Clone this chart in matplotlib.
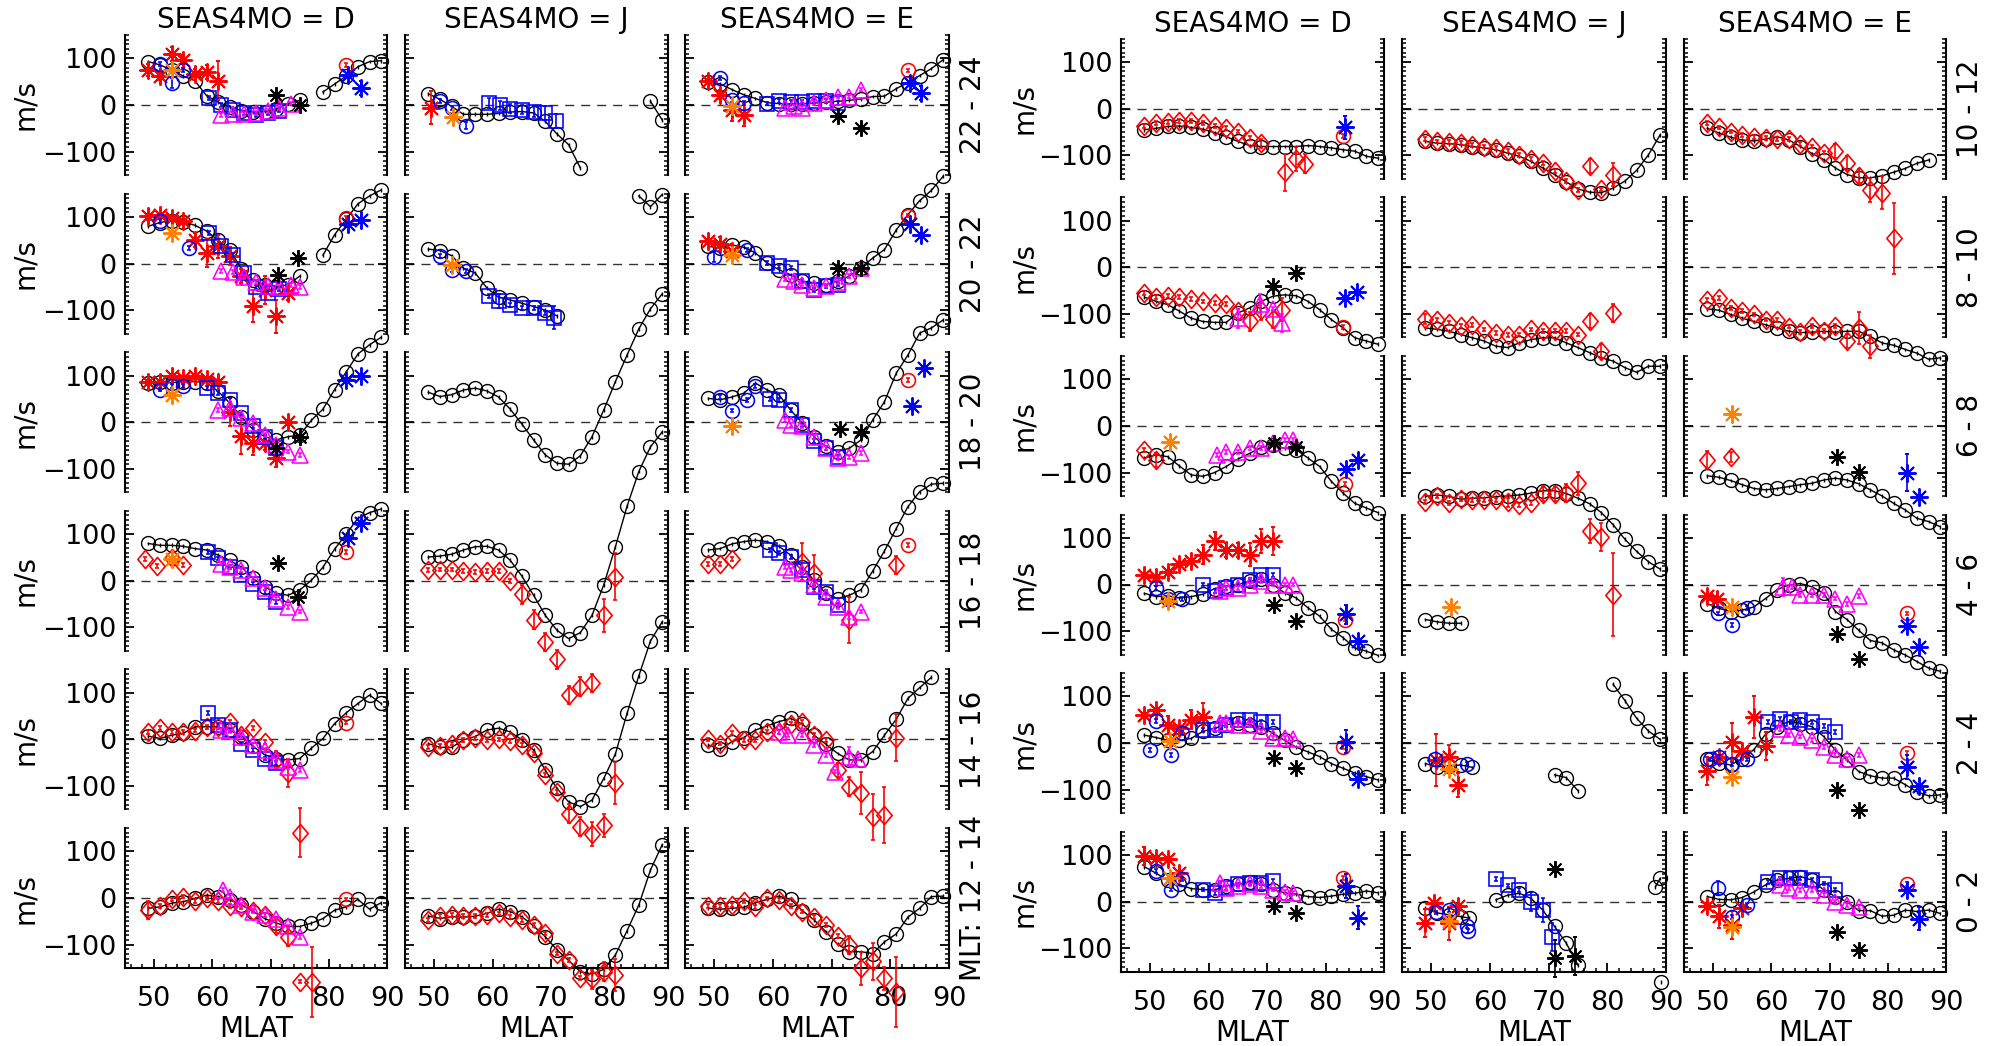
import matplotlib
matplotlib.use("Agg")
import matplotlib.pyplot as plt
import numpy as np
from matplotlib.ticker import FixedLocator, MultipleLocator
from matplotlib.path import Path

plt.rcParams['font.family'] = ['DejaVu Sans']
plt.rcParams['font.size'] = 20

N = None
MLAT = [49, 51, 53, 55, 57, 59, 61, 63, 65, 67, 69, 71, 73, 75, 77, 79, 81, 83, 85, 87, 89]
SEASONS = ['D', 'J', 'E']
MLT_LEFT = ['22 - 24', '20 - 22', '18 - 20', '16 - 18', '14 - 16', 'MLT: 12 - 14']
MLT_RIGHT = ['10 - 12', '8 - 10', '6 - 8', '4 - 6', '2 - 4', '0 - 2']
X_TICKS = [50, 60, 70, 80, 90]
Y_TICKS = [-100, 0, 100]

# ---------------- model curves (black circles), on the MLAT grid ----------------
L1D = [93, 86, 75, 62, 52, 20, 6, -4, -12, -15, -14, -8, 3, 10, N, 28, 45, 62, 82, 93, 95]
L1J = [24, 12, -3, -20, -20, -20, -18, -15, -14, -17, -35, -62, -85, -135, N, N, N, N, N, 8, -32]
L1E = [50, 45, 33, 22, 14, 5, 3, 2, 3, 4, 6, 8, 10, 13, 18, 19, 35, 48, 63, 78, 97]
L2D = [80, 88, 92, 90, 82, 70, 50, 30, -12, -35, -45, -50, -45, -27, N, 18, 62, 95, 128, 145, 158]
L2J = [31, 28, 17, -10, -20, -52, -72, -78, -85, -92, -100, -112, N, N, N, N, N, N, 145, 122, 148]
L2E = [37, 33, 40, 35, 23, 1, -13, -24, -38, -41, -45, -38, -27, -9, 12, 30, 72, 105, 135, 157, 187]
L3D = [84, 87, 85, 86, 87, 85, 66, 41, 12, -16, -31, -38, -31, -28, 4, 28, 70, 108, 146, 166, 182]
L3J = [64, 55, 59, 69, 73, 67, 54, 28, -4, -38, -70, -88, -90, -72, -31, 26, 87, 144, 200, 243, 275]
L3E = [51, 48, 54, 62, 84, 69, 59, 26, -2, -31, -52, -63, -56, -38, 5, 44, 105, 144, 191, 202, 219]
L4D = [80, 76, 76, 74, 69, 66, 55, 44, 29, 5, -13, -27, -31, -20, 1, 29, 68, 100, 134, 146, 154]
L4J = [51, 53, 57, 66, 73, 74, 66, 44, 10, -31, -74, -106, -124, -111, -74, -9, 73, 160, 234, 287, 319]
L4E = [66, 69, 79, 84, 87, 84, 74, 55, 30, 1, -27, -38, -31, -19, 21, 64, 112, 159, 191, 207, 209]
L5D = [7, 2, 9, 13, 27, 27, 27, 20, 6, -15, -33, -41, -44, -41, -19, 2, 34, 57, 77, 95, 77]
L5J = [-9, -17, -17, -1, 6, 20, 24, 16, -1, -23, -66, -105, -134, -144, -130, -84, -31, 56, 136, 211, 252]
L5E = [-12, -21, -5, 4, 20, 29, 38, 45, 33, 9, -10, -30, -44, -44, -26, 9, 43, 88, 111, 133, N]
L6D = [-22, -19, -11, -8, -1, 6, 3, -4, -15, -29, -44, -54, -61, -61, -54, -44, -26, -19, -3, -24, -10]
L6J = [-39, -44, -40, -41, -39, -33, -24, -29, -40, -60, -83, -111, -134, -158, -163, -153, -122, -70, -15, 60, 114]
L6E = [-22, -24, -22, -20, -10, -3, 4, -3, -27, -47, -72, -99, -115, -115, -119, -94, -77, -41, -22, 3, 4]

R1D = [-45, -42, -38, -37, -40, -44, -51, -60, -70, -79, -81, -81, -81, -81, -79, -81, -84, -88, -91, -102, -106]
R1J = [-70, -74, -75, -77, -81, -84, -88, -95, -102, -113, -127, -141, -157, -172, -179, -180, -170, -155, -132, -99, -56]
R1E = [-42, -52, -61, -67, -69, -65, -60, -67, -81, -96, -109, -127, -141, -148, -148, -144, -136, -128, -117, -110, N]
R2D = [-64, -73, -80, -94, -109, -116, -118, -118, -98, -87, -73, -62, -59, -61, -73, -91, -112, -130, -151, -158, -165]
R2J = [-130, -133, -137, -144, -151, -158, -169, -172, -162, -155, -151, -151, -162, -172, -183, -194, -201, -215, -225, -212, -212]
R2E = [-89, -92, -101, -109, -116, -123, -130, -137, -140, -139, -137, -139, -137, -137, -148, -162, -167, -176, -184, -197, -194]
R3D = [-69, -62, -66, -86, -105, -108, -100, -87, -71, -59, -46, -41, -48, -51, -69, -87, -119, -144, -166, -176, -186]
R3J = [-151, -148, -151, -157, -155, -154, -152, -150, -148, -144, -139, -139, -145, -155, -167, -186, -212, -243, -269, -291, -307]
R3E = [-107, -110, -117, -126, -134, -137, -134, -130, -126, -123, -116, -112, -116, -124, -137, -150, -166, -180, -198, -205, -216]
R4D = [-19, -26, -24, -29, -26, -21, -9, -4, 0, 7, 12, 0, -18, -29, -50, -68, -96, -114, -136, -143, -152]
R4J = [-75, -80, -83, -83, N, N, N, N, N, N, N, N, N, N, N, N, N, N, N, N, N]
R4E = [-41, -51, -58, -55, -48, -30, -11, -1, 2, -5, -19, -58, -75, -98, -120, -125, -140, -151, -165, -179, -186]
R5D = [17, 12, 6, 6, 10, 25, 32, 39, 43, 39, 35, 21, 6, -9, -19, -29, -44, -54, -64, -72, -79]
R5J = [-44, -51, -48, -47, -52, N, N, N, N, N, N, -68, -74, -102, N, N, 126, 91, 53, 26, 8]
R5E = [-35, -42, -47, -33, -14, 19, 35, 46, 42, 35, 14, -15, -36, -61, -70, -75, -75, -89, -104, -113, -111]
R6D = [75, 61, 46, 37, 28, 26, 25, 34, 37, 42, 37, 26, 19, 16, 11, 9, 12, 16, 18, 23, 19]
R6J_x = [49, 51, 53, 55, 56.5, N, 61, 63, 65, 67, 69, 71, 73, 75, N, 88.2, 89, N, 89.2]
R6J = [-14, -24, -28, -32, -35, N, 4, 14, 18, 7, -18, -53, -89, -136, N, 32, 50, N, -172]
R6E = [11, 5, 4, 9, 21, 36, 46, 50, 54, 46, 25, 11, 0, -19, -19, -31, -29, -18, -21, -18, -25]

MODEL_X = {'R6J': R6J_x}

# ---------------- observations: (MLAT, m/s[, error]) ----------------
# rd red diamond, rs red asterisk, bc blue circle, bq blue square, mt magenta triangle,
# os orange asterisk, ks black asterisk, bs blue asterisk, rc red circle
L1D_obs = {
    'rs': [(49, 75, 12), (51, 62, 8), (53, 110, 15), (55, 96, 8), (57, 66, 12), (59, 70, 15), (61, 52, 42)],
    'bc': [(51, 88), (53, 47, 10), (55, 75)],
    'bq': [(59.5, 15), (61.5, 0), (63.5, -10), (65.5, -17), (67.5, -22), (69.5, -18), (71.5, -12)],
    'mt': [(61.5, -22), (63.5, -20), (65.5, -20), (67.5, -17), (69.5, -13), (71.5, -6), (73.5, 3)],
    'os': [(53, 75)],
    'ks': [(71, 22), (75, 0)],
    'rc': [(83, 86)],
    'bs': [(83.3, 65), (85.5, 36, 15)],
}
L1J_obs = {
    'rs': [(49.5, -6, 35)],
    'bc': [(51, 8), (53, -6), (55.5, -44, 8)],
    'bq': [(59.3, 4, 10), (61.2, -1, 10), (63, -8, 10), (65, -10, 10), (67, -14, 12), (69, -17, 15), (70.8, -35, 15)],
    'os': [(53.2, -26)],
}
L1E_obs = {
    'rs': [(49, 51), (51, 22, 10), (53, -10, 25), (55, -21, 25)],
    'bc': [(51, 58), (53, 11), (55, 4)],
    'bq': [(59, 3), (61, 8), (63, 6), (65, 7), (67, 8), (69, 9), (71, 5)],
    'mt': [(62, -6), (63.5, -3), (65, -6), (67, 4), (69, 11), (71, 18), (73, 18), (75, 33)],
    'os': [(53, -3)],
    'ks': [(71, -24), (75, -49)],
    'rc': [(83, 74)],
    'bs': [(83.3, 47), (85.3, 26, 15)],
}
L2D_obs = {
    'rs': [(49, 101), (51, 105), (53, 98), (55, 91), (57, 51, 15), (59, 23, 30), (61, 37, 25), (63, 16, 20),
           (65, -27, 15), (67, -91, 35), (69, -56, 30), (71, -113, 35), (73, -63, 15)],
    'bc': [(51, 91), (56, 34)],
    'bq': [(59.5, 65), (61.5, 38), (63.5, 18), (65.5, -20), (67.5, -50), (69.5, -62), (71.5, -55)],
    'mt': [(61.5, -16), (63.5, -18), (65.5, -28), (67.5, -40), (69.5, -48), (71.5, -50), (73.5, -46), (75, -50)],
    'os': [(53, 66)],
    'ks': [(71.2, -24), (74.7, 12)],
    'rc': [(83, 98)],
    'bs': [(83.3, 84), (85.5, 94)],
}
L2J_obs = {
    'bc': [(51, 16), (53, -14), (55.5, -16)],
    'bq': [(59.3, -70), (61, -81, 15), (63, -88), (65, -95), (67, -95), (69, -106), (70.5, -116, 25)],
    'os': [(53, -2)],
}
L2E_obs = {
    'rs': [(49, 48), (51, 41, 15), (53, 26, 15)],
    'bc': [(50, 14, 10), (55.5, 29)],
    'bq': [(59, 1), (61, -6), (63, -9), (65, -38), (67, -56), (69, -49), (71, -45)],
    'mt': [(62, -34), (63.5, -38), (65, -45), (67, -52), (69, -47), (71, -40), (73, -26), (75, -9)],
    'os': [(53, 19)],
    'ks': [(71, -9), (75, -9)],
    'rc': [(83, 103)],
    'bs': [(83.3, 84), (85.3, 62)],
}
L3D_obs = {
    'rs': [(49, 87), (51, 87), (53, 98), (55, 94), (57, 99), (59, 92), (61, 87), (63, 21, 30), (65, -29, 40),
           (67, -45, 25), (69, -45, 15), (71, -77, 20), (73, 1)],
    'bc': [(51, 70), (53, 78), (55, 77)],
    'bq': [(59, 73), (61, 62), (63, 48), (65, 19), (67, -9), (69, -31), (71, -56)],
    'mt': [(61, 26), (63, 30), (65, 8), (67, -2), (69, -27), (71, -49), (73, -63), (75, -70)],
    'os': [(53, 59)],
    'ks': [(71, -56), (75, -31)],
    'bs': [(83, 91), (85.5, 99)],
}
L3J_obs = {}
L3E_obs = {
    'bc': [(51, 54), (53, 25), (55.5, 48), (57, 78)],
    'bq': [(59.5, 49), (61, 48), (63, 26), (65, -6), (67, -41), (69, -56), (71, -74)],
    'mt': [(62, 5), (63, -6), (65, -9), (67, -31), (69, -56), (71, -77), (73, -74), (75, -66)],
    'os': [(53, -8)],
    'ks': [(71.5, -15), (75, -20)],
    'rc': [(83, 91)],
    'bs': [(85.7, 116), (83.7, 34)],
}
L4D_obs = {
    'rd': [(48.5, 46), (50.5, 31), (53, 48), (55, 34)],
    'bq': [(59.3, 62), (61, 48), (63, 30), (65, 12), (67, -6), (69, -24), (71, -45)],
    'mt': [(61.5, 37), (63, 30), (65, 23), (67, 5), (69, -16), (71, -38), (73, -56), (75, -66)],
    'os': [(53, 46)],
    'ks': [(71.2, 39), (74.7, -34)],
    'rc': [(83, 62)],
    'bs': [(83.3, 91), (85.5, 123)],
}
L4J_obs = {
    'rd': [(49, 23), (51, 24), (53, 24), (55, 21), (57, 19), (59, 21), (61, 21), (63, 0), (65, -29, 20),
           (67, -83, 20), (69, -131, 20), (71, -168, 20), (73, -245, 20), (75, -227, 20), (77, -219, 20),
           (79, -74, 35), (81, 9, 50)],
}
L4E_obs = {
    'rd': [(49, 36), (51, 36), (53, 46), (65, 41, 40), (67, 16, 40), (73, -84, 50), (81, 34, 20)],
    'bq': [(59.5, 66), (61, 59), (63, 51), (65, 23), (67, -13), (69, -24), (71, -52)],
    'mt': [(62, 30), (63, 23), (65, 16), (67, -10), (69, -34), (71, -56), (73, -77), (75, -66)],
    'rc': [(83, 76)],
}
L5D_obs = {
    'rd': [(49, 16), (51, 24), (53, 16), (55, 16), (57, 19), (59, 27), (61, 27), (63, 38), (65, 9), (67, 24),
           (69, -5), (71, -44, 20), (73, -73, 30), (75, -200, 52)],
    'bq': [(59.3, 56), (61, 31), (63, 20), (65, -9), (67, -23), (69, -41), (71, -51)],
    'mt': [(61.5, 20), (63, 17), (65, 6), (67, -12), (69, -23), (71, -44), (73, -59), (75, -66)],
    'rc': [(83, 36)],
}
L5J_obs = {
    'rd': [(49, -17), (51, -14), (53, -9), (55, -1), (57, 2), (59, -1), (61, 0), (63, -3), (65, -12), (67, -30),
           (69, -76), (71, -112), (73, -159, 20), (75, -187, 20), (77, -203, 25), (79, -184, 25), (81, -93, 45)],
}
L5E_obs = {
    'rd': [(49, 0), (51, -9), (53, 14), (55, -1), (57, -1), (59, 16), (61, 16), (63, 34), (65, 38), (67, 9),
           (69, -1), (71, -66, 15), (73, -101, 20), (75, -114, 45), (77, -166, 50), (79, -162, 60), (81, 4, 50)],
    'mt': [(61, 16), (62.5, 9), (65, 9), (67, -12), (69, -34), (70.5, -69), (73, -37, 20), (74.5, -41)],
}
L6D_obs = {
    'rd': [(49, -26, 20), (51, -17), (53, -3), (55, 3), (57, -6), (59, -1), (61, -6), (63, -17), (65, -19),
           (67, -27), (69, -36), (71, -61, 15), (73, -83, 20), (75, -179), (77.2, -179, 75)],
    'mt': [(61.8, 17), (63, 3), (65, -15), (67, -29), (69, -36), (71, -44), (73, -61), (75, -83)],
    'rc': [(83, -3)],
}
L6J_obs = {
    'rd': [(49, -47), (51, -38), (53, -36), (55, -38), (57, -38), (59, -36), (61, -33), (63, -40), (65, -47),
           (67, -58), (69, -76), (71, -119), (73, -133), (75, -172), (77, -174, 20), (79, -158, 20), (81, -165, 35)],
}
L6E_obs = {
    'rd': [(49, -17), (51, -17), (53, -15), (55, -6), (57, -19), (59, -1), (61, -4), (63, -17), (65, -29),
           (67, -41), (69, -58), (71, -81), (73, -101, 20), (75, -151, 35), (77, -136, 40), (79, -172, 25),
           (81, -201, 75)],
}

R1D_obs = {
    'rd': [(49, -37), (51, -31), (53, -28), (55, -26), (57, -26), (59, -30), (61, -37), (63, -42), (65, -49),
           (67, -63), (69, -74, 10), (73, -136, 40), (75, -108, 25), (76.5, -118, 20)],
    'rc': [(83, -58)],
    'bs': [(83.3, -40, 25)],
}
R1J_obs = {
    'rd': [(49, -65), (51, -70), (53, -72), (55, -74), (57, -77), (59, -81), (61, -84), (63, -91), (65, -99),
           (67, -108), (69, -116), (71, -134), (73, -155), (75, -174), (77, -123, 15), (79, -173), (81, -141, 25)],
}
R1E_obs = {
    'rd': [(49, -30), (51, -40), (53, -49), (55, -56), (57, -61), (59, -63), (61, -65), (63, -65), (65, -75),
           (67, -81), (69, -94), (71, -91, 15), (73, -116, 15), (75, -145, 15), (77, -174, 25), (79, -180, 35),
           (81, -278, 76)],
}
R2D_obs = {
    'rd': [(49, -55), (51, -64), (53, -61), (55, -64), (57, -68), (59, -73), (61, -77), (63, -78), (65, -94),
           (67, -116, 20), (69, -92, 20), (71, -111, 20), (72.5, -91, 25)],
    'mt': [(65, -109, 20), (68.8, -78, 20), (71, -90), (72.5, -119, 20)],
    'ks': [(71, -41), (75, -13)],
    'rc': [(83, -128)],
    'bs': [(83.3, -66), (85.3, -52)],
}
R2J_obs = {
    'rd': [(49, -111, 10), (51, -113), (53, -119), (55, -126), (57, -123), (59, -133), (61, -140), (63, -145),
           (65, -144), (67, -133), (69, -137), (71, -137), (73, -137), (75, -144), (77, -116, 15), (79, -179, 15),
           (81, -98, 20)],
}
R2E_obs = {
    'rd': [(49, -70), (51, -65), (53, -87), (55, -94), (57, -101), (59, -112), (61, -113), (63, -127), (65, -139),
           (67, -125), (69, -137), (71, -126), (73, -158, 15), (75, -130, 35), (77, -169, 25)],
}
R3D_obs = {
    'rd': [(49, -51), (51, -73, 15)],
    'mt': [(61.5, -62), (63, -56), (65, -56), (67, -48), (69, -48), (71, -37), (73, -30), (74.5, -30)],
    'os': [(53.3, -34)],
    'ks': [(71.2, -37), (74.9, -46)],
    'rc': [(83.3, -124)],
    'bs': [(83.5, -93), (85.6, -73)],
}
R3J_obs = {
    'rd': [(49, -163), (51, -151), (53, -165), (55, -157), (57, -159), (59, -159), (61, -159), (63, -164, 10),
           (65, -169), (67, -166), (69, -145, 15), (71, -145, 15), (73, -144, 20), (75, -123, 25), (77, -225, 25),
           (79, -239, 30), (81, -362, 89)],
}
R3E_obs = {
    'rd': [(49, -73, 20), (53, -67, 10)],
    'os': [(53.3, 26)],
    'ks': [(71.2, -67), (75, -98)],
    'bs': [(83.3, -100, 40), (85.3, -153)],
}
R4D_obs = {
    'rs': [(49, 21), (51, 16), (53, 26), (55, 43), (57, 50), (59, 64, 20), (61, 93, 20), (63, 74, 15),
           (65, 74, 15), (67, 64, 25), (69, 93, 25), (71, 93, 30)],
    'bc': [(51, -7), (53, -31), (55.5, -31)],
    'bq': [(59, 0), (61, -14), (63, -7), (65, 0), (67, 9), (69, 21), (71, 21)],
    'mt': [(62, -14), (63, -7), (65, -7), (67, 0), (69, 7), (71, 0), (73, 0), (74.5, 0)],
    'os': [(53, -36)],
    'ks': [(71.2, -43), (74.9, -79)],
    'rc': [(83.3, -75)],
    'bs': [(83.5, -64, 20), (85.6, -121)],
}
R4J_obs = {
    'os': [(53.3, -48)],
}
R4E_obs = {
    'rs': [(49, -25), (50.7, -32)],
    'bc': [(50.8, -62), (53.3, -87), (55.8, -51)],
    'mt': [(62, -5, 20), (63.5, -5), (65, -23), (67, -23), (69, -23), (71, -30), (73, -41), (75, -25)],
    'os': [(53.3, -48)],
    'ks': [(71.2, -105), (75, -160)],
    'rc': [(83.3, -62)],
    'bs': [(83.3, -89), (85.3, -133)],
}
R5D_obs = {
    'rs': [(49, 60), (51, 71), (53, 39, 20), (55, 32), (57, 50, 20), (59, 57, 30)],
    'bc': [(50, -15), (51, 47), (53.5, -25), (55.5, 21)],
    'bq': [(59, 28), (61, 28), (63, 39), (65, 50), (67, 50), (69, 46), (71, 46)],
    'mt': [(62, 43), (63, 43), (65, 39), (67, 39), (69, 25), (71, 11), (73, 11), (74.5, 9)],
    'os': [(53.3, 5)],
    'ks': [(71.2, -32), (74.9, -54)],
    'rc': [(83, -9)],
    'bs': [(83.5, 3, 25), (85.6, -76)],
}
R5J_obs = {
    'rs': [(50.8, -36, 55), (53, -29, 25), (54.6, -90, 25)],
    'bc': [(50.6, -35), (56, -44)],
    'os': [(53, -56)],
}
R5E_obs = {
    'rs': [(49, -59, 30), (51, -29), (53.3, 3, 40), (55, -16), (57, 55, 45), (59, -6, 30)],
    'bc': [(49.5, -35), (51, -30), (53.3, -45), (55.8, -35)],
    'bq': [(59.5, 46), (61.5, 51), (63.4, 46), (65, 49), (67, 46), (69, 36), (71, 24)],
    'mt': [(61.5, 31), (63, 17), (65, 14), (67, 6), (69, -8), (71, -26), (73, -33), (75, -26)],
    'os': [(53.3, -72)],
    'ks': [(71.2, -100), (75, -144)],
    'rc': [(83.3, -21)],
    'bs': [(83.3, -51, 25), (85.3, -92)],
}
R6D_obs = {
    'rs': [(49, 98, 20), (51, 94), (53, 91), (55, 62)],
    'bc': [(51, 66), (53.5, 26), (55.5, 48)],
    'bq': [(59, 26), (61, 19), (63, 30), (65, 37), (67, 40), (69, 40), (71, 44)],
    'mt': [(62, 41), (63, 30), (65, 34), (67, 37), (69, 34), (71, 26), (73, 21), (74.5, 19)],
    'os': [(53.3, 51)],
    'ks': [(71.2, -9), (74.9, -25)],
    'rc': [(83, 51)],
    'bs': [(83.5, 34, 25), (85.6, -34, 25)],
}
R6J_obs = {
    'rs': [(49, -46, 30), (50.4, -2), (53, -46, 35), (54.6, -9)],
    'bc': [(50.8, -23), (53, -17), (56, -52), (56.3, -63)],
    'bq': [(61, 49), (63, 35), (65, 25), (67, 0, 20), (69, -18, 25), (70.5, -75, 30)],
    'os': [(53, -42)],
    'ks': [(71, 71), (71, -121, 40), (74.5, -116, 40)],
}
R6E_obs = {
    'rs': [(49, -9), (51, -31, 25), (53.3, -50, 30), (55, -14)],
    'bc': [(50.8, 29, 15), (53.3, -32), (55.8, -7)],
    'bq': [(59.5, 43), (61.5, 50), (63.4, 50), (65, 50), (67, 46), (69, 39), (71, 25)],
    'mt': [(61.5, 36), (63, 29), (65, 25), (67, 25), (69, 14), (71, 0), (73, -7), (75, -11)],
    'os': [(53.3, -54)],
    'ks': [(71.2, -64), (75, -104)],
    'rc': [(83.3, 38)],
    'bs': [(83.3, 25), (85.3, -36, 25)],
}

# ---------------- styles ----------------
AST = (8, 2, 0)
DIAMOND = Path([(0, 1), (0.85, 0), (0, -1), (-0.85, 0), (0, 1)],
               [Path.MOVETO, Path.LINETO, Path.LINETO, Path.LINETO, Path.CLOSEPOLY])
STYLE = {
    'rd': dict(marker=DIAMOND, color='#ff0000', ms=13, mew=1.2),
    'rs': dict(marker=AST, color='#ff0000', ms=13, mew=1.4),
    'bc': dict(marker='o', color='#0000ff', ms=10, mew=1.15),
    'bq': dict(marker='s', color='#0000ff', ms=9.8, mew=1.15),
    'mt': dict(marker='^', color='#ff00ff', ms=11, mew=1.15),
    'os': dict(marker=AST, color='#ff8000', ms=13, mew=1.4),
    'ks': dict(marker=AST, color='#000000', ms=12, mew=1.4),
    'rc': dict(marker='o', color='#ff0000', ms=10, mew=1.15),
    'bs': dict(marker=AST, color='#0000ff', ms=13, mew=1.4),
}
ORDER = ['rd', 'rs', 'bc', 'bq', 'mt', 'os', 'ks', 'rc', 'bs']
OBS_ERR = 4
MODEL_ERR = 4

W, H = 1999, 1046
fig = plt.figure(figsize=(W / 100, H / 100), dpi=100)

GROUPS = [
    dict(tag='L', cols=[(125, 387), (405, 668), (685, 949)], top0=35.0, labels=MLT_LEFT,
         ylab_x=25, mlt_x=973),
    dict(tag='R', cols=[(1121, 1384), (1402, 1666), (1684, 1946)], top0=38.7, labels=MLT_RIGHT,
         ylab_x=1024, mlt_x=1970),
]
PITCH = 158.6
PH = 140.0
FS = 20
TFS = 19.5


def vals(seq):
    return np.array([np.nan if v is None else v for v in seq], dtype=float)


for g in GROUPS:
    for r in range(6):
        top = g['top0'] + PITCH * r
        for c, s in enumerate(SEASONS):
            x0, x1 = g['cols'][c]
            ax = fig.add_axes([x0 / W, 1 - (top + PH) / H, (x1 - x0) / W, PH / H])
            ax.set_xlim(45, 90)
            ax.set_ylim(-150, 150)
            ax.set_facecolor('none')
            key = f"{g['tag']}{r + 1}{s}"
            ax.axhline(0, color='0.2', lw=1.0, dashes=(6.5, 5), zorder=1)

            my = vals(globals()[key])
            mx = vals(MODEL_X.get(key, MLAT))
            ax.errorbar(mx, my, yerr=MODEL_ERR, fmt='-o', color='k', mfc='none', mec='k', ms=10,
                        mew=1.0, lw=1.0, elinewidth=1.0, capsize=0, zorder=2)

            obs = globals()[key + '_obs']
            for z, k in enumerate(ORDER):
                if k not in obs:
                    continue
                st = STYLE[k]
                pts = obs[k]
                xs = [p[0] for p in pts]
                ys = [p[1] for p in pts]
                es = [p[2] if len(p) > 2 else OBS_ERR for p in pts]
                ax.errorbar(xs, ys, yerr=es, linestyle='none', marker=st['marker'], ms=st['ms'],
                            mfc='none', mec=st['color'], mew=st['mew'], ecolor=st['color'],
                            elinewidth=1.2, capsize=1.2, capthick=1.2, zorder=3 + z)

            for art in list(ax.lines) + list(ax.collections):
                art.set_clip_on(False)

            # axes styling
            ax.spines['top'].set_visible(False)
            for sp in ['left', 'right', 'bottom']:
                ax.spines[sp].set_linewidth(1.5)
            ax.yaxis.set_major_locator(FixedLocator(Y_TICKS))
            ax.yaxis.set_minor_locator(MultipleLocator(10))
            ax.tick_params(axis='y', which='major', direction='in', left=True, right=True,
                           length=6.5, width=1.3, labelsize=TFS, pad=6)
            ax.tick_params(axis='y', which='minor', direction='in', left=True, right=True,
                           length=3.2, width=1.1)
            if c != 0:
                ax.tick_params(axis='y', labelleft=False)
            if r == 5:
                ax.xaxis.set_major_locator(FixedLocator(X_TICKS))
                ax.xaxis.set_minor_locator(MultipleLocator(2))
                ax.tick_params(axis='x', which='major', direction='in', bottom=True, top=False,
                               length=6.5, width=1.3, labelsize=TFS, pad=13)
                ax.tick_params(axis='x', which='minor', direction='in', bottom=True, top=False,
                               length=3.2, width=1.1)
                fig.text((x0 + x1) / 2 / W, 1 - (top + PH + 61) / H, 'MLAT', ha='center', va='center',
                         fontsize=FS)
            else:
                ax.spines['bottom'].set_visible(False)
                ax.tick_params(axis='x', which='both', bottom=False, top=False, labelbottom=False)
            if r == 0:
                fig.text((x0 + x1) / 2 / W, 1 - (top - 15) / H, f'SEAS4MO = {s}', ha='center',
                         va='center', fontsize=FS)
        # row labels
        yc = 1 - (top + PH / 2) / H
        fig.text(g['ylab_x'] / W, yc, 'm/s', rotation=90, ha='center', va='center', fontsize=FS)
        fig.text(g['mlt_x'] / W, yc, g['labels'][r], rotation=90, ha='center', va='center', fontsize=FS)

fig.savefig('out.png', dpi=100, facecolor='white')
